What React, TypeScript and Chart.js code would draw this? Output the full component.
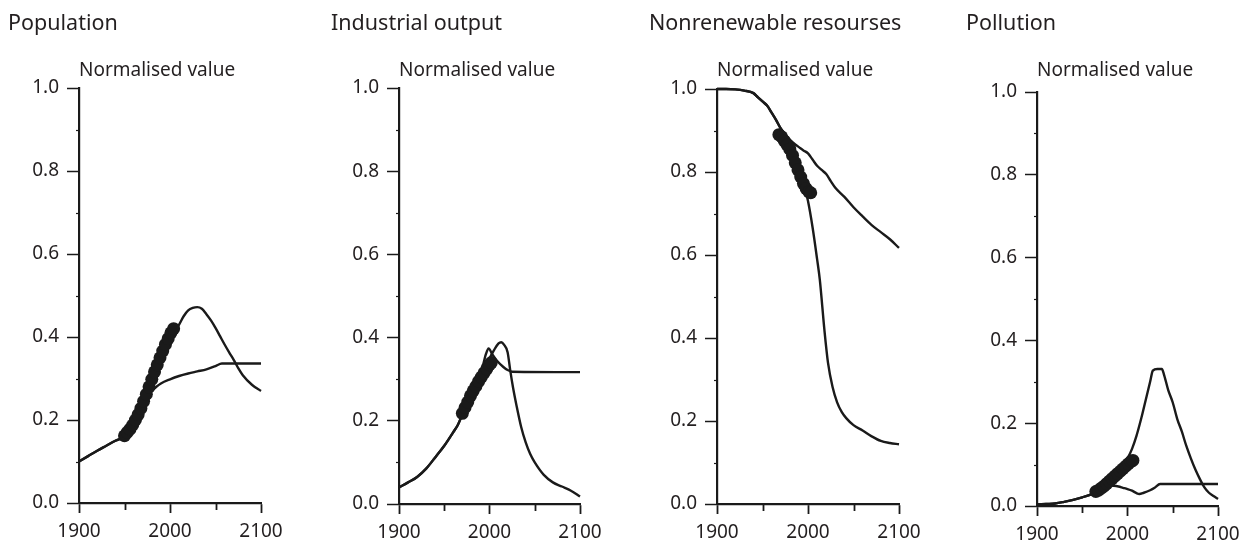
import React, { useEffect, useRef } from "react";
import { Chart, registerables } from "chart.js";

Chart.register(...registerables);

const FONT = "'Noto Sans', 'DejaVu Sans', sans-serif";
const INK = "#1a1a1a";
const TEXT = "#231f20";

// ---------- shared ticks ----------
const xMajorTicks = [1900, 2000, 2100];
const xMinorTicks = [1950, 2050];
const yMinorTicks = [0.1, 0.3, 0.5, 0.7, 0.9];

// ---------- Population ----------
const popYearsA = [1900, 1910, 1920, 1930, 1940, 1950, 1960, 1965, 1970, 1975, 1980, 1985, 1990, 1995, 2000, 2005, 2010, 2015, 2020, 2025, 2030, 2035, 2040, 2045, 2050, 2055, 2060, 2065, 2070, 2075, 2080, 2090, 2100];
const popValuesA = [0.1, 0.113, 0.126, 0.138, 0.15, 0.16, 0.18, 0.205, 0.235, 0.265, 0.292, 0.32, 0.348, 0.375, 0.398, 0.415, 0.43, 0.45, 0.464, 0.47, 0.472, 0.468, 0.455, 0.44, 0.422, 0.402, 0.382, 0.363, 0.345, 0.325, 0.308, 0.285, 0.27];
const popYearsB = [1900, 1910, 1920, 1930, 1940, 1950, 1960, 1965, 1970, 1975, 1980, 1985, 1990, 2000, 2010, 2020, 2030, 2040, 2050, 2057, 2100];
const popValuesB = [0.1, 0.113, 0.126, 0.138, 0.15, 0.16, 0.18, 0.205, 0.232, 0.255, 0.27, 0.28, 0.288, 0.298, 0.306, 0.312, 0.317, 0.322, 0.33, 0.336, 0.336];
const popObsYears = [1950, 1953, 1956, 1959, 1962, 1965, 1968, 1971, 1974, 1977, 1980, 1983, 1986, 1989, 1992, 1995, 1998, 2001, 2004];
const popObsValues = [0.162, 0.17, 0.178, 0.188, 0.2, 0.213, 0.228, 0.245, 0.262, 0.28, 0.298, 0.316, 0.333, 0.35, 0.366, 0.382, 0.396, 0.41, 0.42];

// ---------- Industrial output ----------
const indYearsA = [1900, 1910, 1920, 1930, 1940, 1950, 1960, 1965, 1970, 1975, 1980, 1985, 1990, 1995, 2000, 2005, 2010, 2013, 2016, 2020, 2023, 2026, 2030, 2035, 2040, 2045, 2050, 2060, 2070, 2080, 2090, 2100];
const indValuesA = [0.04, 0.052, 0.065, 0.085, 0.112, 0.14, 0.173, 0.19, 0.215, 0.24, 0.265, 0.285, 0.305, 0.325, 0.35, 0.37, 0.386, 0.389, 0.383, 0.365, 0.32, 0.28, 0.235, 0.185, 0.148, 0.12, 0.1, 0.07, 0.052, 0.042, 0.032, 0.018];
const indYearsB = [1900, 1910, 1920, 1930, 1940, 1950, 1960, 1965, 1970, 1975, 1980, 1985, 1990, 1993, 1996, 1999, 2003, 2008, 2015, 2020, 2025, 2100];
const indValuesB = [0.04, 0.052, 0.065, 0.085, 0.112, 0.14, 0.173, 0.19, 0.215, 0.24, 0.265, 0.285, 0.31, 0.335, 0.36, 0.374, 0.36, 0.345, 0.33, 0.322, 0.318, 0.317];
const indObsYears = [1970, 1973, 1976, 1979, 1982, 1985, 1988, 1991, 1994, 1997, 2000, 2002];
const indObsValues = [0.218, 0.232, 0.245, 0.26, 0.272, 0.283, 0.295, 0.305, 0.315, 0.325, 0.335, 0.34];

// ---------- Nonrenewable resourses ----------
const resYearsA = [1900, 1910, 1920, 1930, 1940, 1945, 1950, 1955, 1960, 1965, 1970, 1975, 1980, 1985, 1990, 1995, 2000, 2005, 2010, 2013, 2018, 2022, 2027, 2032, 2037, 2042, 2050, 2060, 2070, 2080, 2090, 2100];
const resValuesA = [1.0, 1.0, 0.999, 0.996, 0.99, 0.98, 0.97, 0.96, 0.943, 0.925, 0.905, 0.89, 0.875, 0.855, 0.82, 0.775, 0.73, 0.667, 0.59, 0.54, 0.42, 0.34, 0.282, 0.245, 0.222, 0.207, 0.19, 0.177, 0.163, 0.152, 0.147, 0.144];
const resYearsB = [1900, 1910, 1920, 1930, 1940, 1945, 1950, 1955, 1960, 1965, 1970, 1975, 1980, 1985, 1990, 1995, 2000, 2005, 2010, 2015, 2020, 2025, 2030, 2040, 2050, 2060, 2070, 2080, 2090, 2100];
const resValuesB = [1.0, 1.0, 0.999, 0.996, 0.99, 0.98, 0.97, 0.96, 0.943, 0.925, 0.905, 0.89, 0.878, 0.868, 0.86, 0.852, 0.845, 0.83, 0.815, 0.805, 0.795, 0.778, 0.762, 0.74, 0.715, 0.693, 0.672, 0.655, 0.638, 0.617];
const resObsYears = [1968, 1971, 1974, 1977, 1980, 1983, 1986, 1989, 1992, 1995, 1998, 2001, 2003];
const resObsValues = [0.89, 0.885, 0.875, 0.865, 0.855, 0.84, 0.822, 0.805, 0.788, 0.772, 0.76, 0.752, 0.75];

// ---------- Pollution ----------
const polYearsA = [1900, 1910, 1920, 1930, 1940, 1950, 1960, 1970, 1980, 1990, 2000, 2005, 2010, 2015, 2020, 2025, 2028, 2033, 2038, 2040, 2045, 2050, 2055, 2060, 2065, 2070, 2075, 2080, 2085, 2090, 2095, 2100];
const polValuesA = [0.004, 0.005, 0.006, 0.01, 0.015, 0.021, 0.028, 0.04, 0.06, 0.085, 0.115, 0.138, 0.17, 0.21, 0.255, 0.3, 0.327, 0.331, 0.331, 0.32, 0.28, 0.25, 0.21, 0.18, 0.145, 0.115, 0.088, 0.065, 0.045, 0.032, 0.024, 0.017];
const polYearsB = [1900, 1910, 1920, 1930, 1940, 1950, 1960, 1970, 1975, 1980, 1985, 1990, 1995, 2000, 2005, 2010, 2013, 2018, 2025, 2030, 2036, 2100];
const polValuesB = [0.004, 0.005, 0.006, 0.01, 0.015, 0.021, 0.028, 0.04, 0.046, 0.05, 0.049, 0.047, 0.044, 0.041, 0.037, 0.031, 0.029, 0.032, 0.038, 0.044, 0.053, 0.053];
const polObsYears = [1965, 1968, 1971, 1974, 1977, 1980, 1983, 1986, 1989, 1992, 1995, 1998, 2001, 2004, 2006];
const polObsValues = [0.035, 0.038, 0.043, 0.048, 0.054, 0.06, 0.066, 0.072, 0.078, 0.084, 0.09, 0.096, 0.102, 0.108, 0.11];

const toPoints = (xs: number[], ys: number[]) => xs.map((x, i) => ({ x, y: ys[i] }));

type PanelSpec = {
  title: string;
  titleX: number;
  left: number;
  width: number;
  areaLeft: number;
  areaRight: number;
  areaTop: number;
  areaBottom: number;
  lineA: { x: number; y: number }[];
  lineB: { x: number; y: number }[];
  obs: { x: number; y: number }[];
};

const PAGE_H = 545;

const panels: PanelSpec[] = [
  { title: "Population", titleX: 8, left: 0, width: 318, areaLeft: 79, areaRight: 261, areaTop: 88, areaBottom: 503,
    lineA: toPoints(popYearsA, popValuesA), lineB: toPoints(popYearsB, popValuesB), obs: toPoints(popObsYears, popObsValues) },
  { title: "Industrial output", titleX: 331, left: 318, width: 318, areaLeft: 399, areaRight: 580, areaTop: 88, areaBottom: 504,
    lineA: toPoints(indYearsA, indValuesA), lineB: toPoints(indYearsB, indValuesB), obs: toPoints(indObsYears, indObsValues) },
  { title: "Nonrenewable resourses", titleX: 649, left: 636, width: 318, areaLeft: 717, areaRight: 899, areaTop: 89, areaBottom: 504,
    lineA: toPoints(resYearsA, resValuesA), lineB: toPoints(resYearsB, resValuesB), obs: toPoints(resObsYears, resObsValues) },
  { title: "Pollution", titleX: 966, left: 954, width: 301, areaLeft: 1037, areaRight: 1218, areaTop: 92, areaBottom: 506,
    lineA: toPoints(polYearsA, polValuesA), lineB: toPoints(polYearsB, polValuesB), obs: toPoints(polObsYears, polObsValues) },
];

const decorPlugin = {
  id: "decor",
  afterDraw(chart: any, _args: any, opts: any) {
    const { ctx, chartArea, scales } = chart;
    const xs = scales.x;
    const ys = scales.y;
    ctx.save();
    ctx.strokeStyle = INK;
    ctx.lineWidth = 1.8;
    for (const v of xMinorTicks) {
      const px = Math.round(xs.getPixelForValue(v)) + 0.5;
      ctx.beginPath();
      ctx.moveTo(px, chartArea.bottom);
      ctx.lineTo(px, chartArea.bottom + 7);
      ctx.stroke();
    }
    ctx.lineWidth = 1.2;
    for (const v of yMinorTicks) {
      const py = Math.round(ys.getPixelForValue(v)) + 0.5;
      ctx.beginPath();
      ctx.moveTo(chartArea.left, py);
      ctx.lineTo(chartArea.left - 3, py);
      ctx.stroke();
    }
    ctx.fillStyle = TEXT;
    ctx.textAlign = "left";
    ctx.textBaseline = "alphabetic";
    ctx.font = `21.5px ${FONT}`;
    ctx.fillText(opts.title, opts.titleX, 30);
    ctx.font = `19px ${FONT}`;
    ctx.fillText("Normalised value", chartArea.left, 76);
    ctx.restore();
  },
};

function Panel({ spec }: { spec: PanelSpec }) {
  const ref = useRef<HTMLCanvasElement | null>(null);
  useEffect(() => {
    if (!ref.current) return;
    const yWidth = spec.areaLeft - spec.left;
    const xHeight = PAGE_H - spec.areaBottom;
    const padRight = spec.left + spec.width - spec.areaRight;
    const lineStyle = {
      type: "line" as const,
      showLine: true,
      borderColor: INK,
      borderWidth: 2.4,
      pointRadius: 0,
      fill: false,
      cubicInterpolationMode: "monotone" as const,
      order: 1,
      clip: 6,
    };
    const chart = new Chart(ref.current, {
      type: "line",
      data: {
        datasets: [
          { ...lineStyle, label: "A", data: spec.lineA },
          { ...lineStyle, label: "B", data: spec.lineB },
          {
            type: "line",
            label: "Observed",
            data: spec.obs,
            showLine: false,
            pointRadius: 6.5,
            pointBackgroundColor: INK,
            pointBorderColor: INK,
            pointBorderWidth: 0,
            order: 0,
            clip: 10,
          } as any,
        ],
      },
      options: {
        animation: false,
        responsive: false,
        devicePixelRatio: 1,
        events: [],
        layout: { padding: { left: 0, top: spec.areaTop, right: padRight, bottom: 0 } },
        plugins: {
          legend: { display: false },
          tooltip: { enabled: false },
          title: { display: false },
          decor: { title: spec.title, titleX: spec.titleX - spec.left },
        } as any,
        scales: {
          x: {
            type: "linear",
            min: 1900,
            max: 2100,
            afterFit: (s: any) => { s.height = xHeight; },
            afterBuildTicks: (s: any) => { s.ticks = xMajorTicks.map((v) => ({ value: v })); },
            ticks: {
              stepSize: 100,
              color: TEXT,
              font: { family: FONT, size: 19 },
              padding: 7,
              maxRotation: 0,
              callback: (v: any) => String(v),
            },
            grid: { drawOnChartArea: false, drawTicks: true, tickLength: 10, color: INK, tickColor: INK, tickWidth: 1.8 },
            border: { display: true, color: INK, width: 2.2 },
          },
          y: {
            type: "linear",
            min: 0,
            max: 1,
            afterFit: (s: any) => { s.width = yWidth; },
            ticks: {
              stepSize: 0.2,
              color: TEXT,
              font: { family: FONT, size: 19 },
              padding: 8,
              callback: (v: any) => Number(v).toFixed(1),
            },
            grid: { drawOnChartArea: false, drawTicks: true, tickLength: 12, color: INK, tickColor: INK, tickWidth: 1.5 },
            border: { display: true, color: INK, width: 2.2 },
          },
        },
      },
      plugins: [decorPlugin],
    } as any);
    return () => chart.destroy();
  }, [spec]);
  return (
    <canvas
      ref={ref}
      width={spec.width}
      height={PAGE_H}
      style={{ position: "absolute", left: spec.left, top: 0, width: spec.width, height: PAGE_H }}
    />
  );
}

export default function App() {
  return (
    <div style={{ position: "absolute", left: 0, top: 0, width: 1255, height: PAGE_H, background: "#fff", overflow: "hidden" }}>
      {panels.map((p) => (
        <Panel key={p.title} spec={p} />
      ))}
    </div>
  );
}
